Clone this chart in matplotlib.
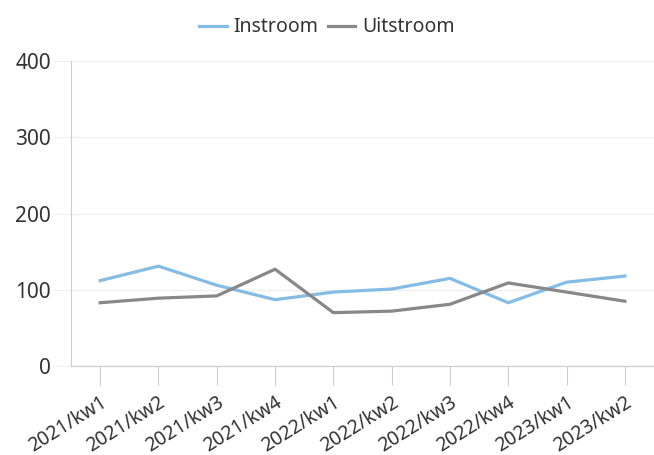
import matplotlib
matplotlib.use('Agg')
import matplotlib.pyplot as plt

plt.rcParams['font.family'] = ['Noto Sans', 'DejaVu Sans']

# data
periods = ['2021/kw1', '2021/kw2', '2021/kw3', '2021/kw4', '2022/kw1',
           '2022/kw2', '2022/kw3', '2022/kw4', '2023/kw1', '2023/kw2']
instroom = [112, 131, 106, 87, 97, 101, 115, 83, 110, 118]
uitstroom = [83, 89, 92, 127, 70, 72, 81, 109, 97, 85]

fig = plt.figure(figsize=(6.54, 4.55), dpi=100)
ax = fig.add_axes([0.1086, 0.1956, 0.8914, 0.670])

x = list(range(len(periods)))
ax.plot(x, instroom, color='#85bce5', linewidth=2.3, label='Instroom')
ax.plot(x, uitstroom, color='#888888', linewidth=2.3, label='Uitstroom')

ax.set_xlim(-0.5, 9.5)
ax.set_ylim(0, 400)
ax.set_yticks([0, 100, 200, 300, 400])
ax.set_xticks(x)
ax.set_xticklabels(periods, rotation=32, ha='right', rotation_mode='anchor')

ax.yaxis.grid(True, color='#f0f0f0', linewidth=1)
ax.set_axisbelow(True)
for s in ['top', 'right']:
    ax.spines[s].set_visible(False)
ax.spines['left'].set_color('#cccccc')
ax.spines['bottom'].set_color('#cccccc')
ax.tick_params(axis='y', length=13, color='#f0f0f0', labelsize=15, labelcolor='#333333', pad=1.5)
ax.tick_params(axis='x', length=14, color='#cccccc', labelsize=14, labelcolor='#333333', pad=5)

fig.legend(loc='upper center', bbox_to_anchor=(0.5, 1.0), ncol=2, frameon=False,
           fontsize=14, handlelength=1.4, handletextpad=0.35, columnspacing=0.5,
           labelcolor='#333333')

fig.savefig('out.png', dpi=100)
